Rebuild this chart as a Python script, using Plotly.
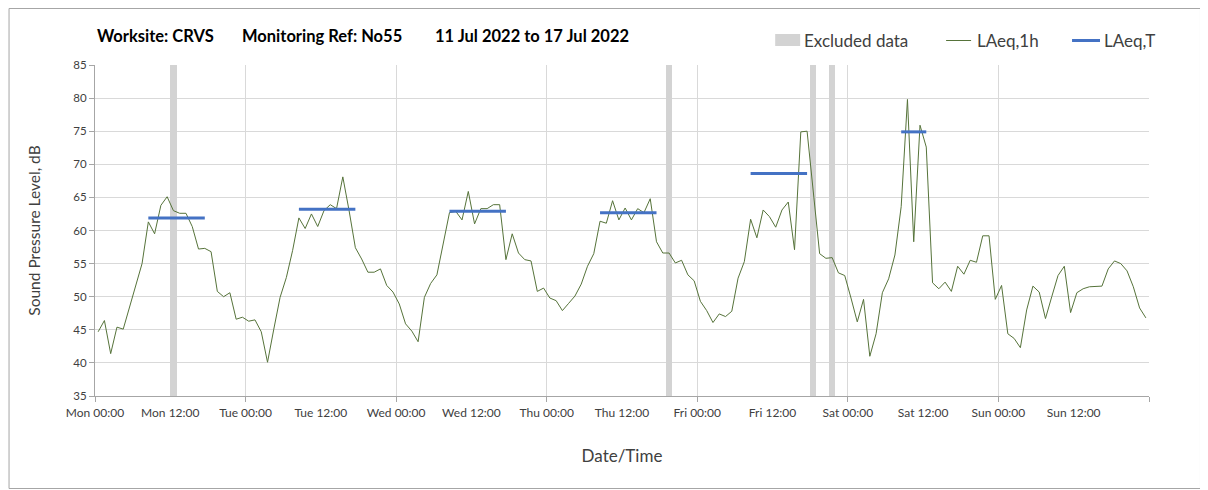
import plotly.graph_objects as go

# ---------------- data ----------------
day_labels = ["Mon", "Tue", "Wed", "Thu", "Fri", "Sat", "Sun"]
tick_hours = list(range(0, 168, 12))
tick_text = [f"{day_labels[h // 24]} {h % 24:02d}:00" for h in tick_hours]

# hourly LAeq,1h values (168 hours, Mon 00:00 .. Sun 23:00)
laeq_1h = [
    44.7, 46.4, 41.4, 45.4, 45.1, 48.5, 52.0, 55.0, 61.3, 59.5, 63.8, 65.1,
    63.0, 62.6, 62.6, 60.6, 57.2, 57.3, 56.8, 50.8, 50.0, 50.6, 46.6, 46.9,
    46.3, 46.5, 44.7, 40.1, 45.1, 49.9, 52.9, 57.0, 61.9, 60.3, 62.5, 60.6,
    63.0, 63.9, 63.3, 68.1, 63.0, 57.4, 55.7, 53.7, 53.7, 54.2, 51.7, 50.7,
    48.9, 45.9, 44.8, 43.2, 49.9, 52.0, 53.3, 58.3, 62.7, 62.9, 61.6, 65.9,
    61.0, 63.3, 63.3, 63.9, 63.9, 55.6, 59.5, 56.6, 55.6, 55.4, 50.8, 51.3,
    49.8, 49.4, 47.9, 49.0, 50.1, 51.9, 54.6, 56.5, 61.4, 61.1, 64.5, 61.6,
    63.4, 61.6, 63.3, 62.7, 64.8, 58.3, 56.6, 56.6, 55.1, 55.5, 53.3, 52.4,
    49.3, 47.9, 46.1, 47.4, 47.0, 47.8, 52.8, 55.3, 61.7, 58.9, 63.1, 62.1,
    60.5, 63.1, 64.3, 57.1, 74.9, 75.0, 66.0, 56.5, 55.8, 55.9, 53.6, 53.2,
    49.8, 46.2, 49.6, 41.0, 44.4, 50.6, 52.7, 56.3, 63.6, 79.8, 58.3, 75.9,
    72.6, 52.1, 51.2, 52.2, 50.8, 54.6, 53.4, 55.5, 55.2, 59.2, 59.2, 49.6,
    51.7, 44.4, 43.7, 42.3, 48.0, 51.6, 50.7, 46.7, 50.0, 53.2, 54.6, 47.6,
    50.6, 51.2, 51.5, 51.5, 51.6, 54.2, 55.4, 55.0, 53.9, 51.5, 48.3, 46.8,
]

# LAeq,T periods: (first hour, last hour, level)
laeq_t_start = [8, 32, 56, 80, 104, 128]
laeq_t_end = [17, 41, 65, 89, 113, 132]
laeq_t_value = [61.9, 63.2, 62.9, 62.7, 68.6, 74.9]

# excluded hours
excluded_hours = [12, 91, 114, 117]

series_names = ["Excluded data", "LAeq,1h", "LAeq,T"]
series_colors = ["#D3D3D3", "#56733A", "#4472C4"]

title_parts = ["Worksite: CRVS", "Monitoring Ref: No55", "11 Jul 2022 to 17 Jul 2022"]

y_min, y_max = 35, 85

# ---------------- figure ----------------
hours_x = [h + 0.5 for h in range(len(laeq_1h))]

t_x, t_y = [], []
for s, e, v in zip(laeq_t_start, laeq_t_end, laeq_t_value):
    t_x += [s + 0.5, e + 0.5, None]
    t_y += [v, v, None]

fig = go.Figure()
fig.add_trace(go.Bar(
    x=[h + 0.5 for h in excluded_hours],
    y=[y_max - y_min] * len(excluded_hours),
    base=y_min, width=1.0,
    marker=dict(color=series_colors[0], line=dict(width=0)),
    name=series_names[0], hoverinfo="skip", showlegend=False,
))
fig.add_trace(go.Scatter(
    x=hours_x, y=laeq_1h, mode="lines", name=series_names[1],
    line=dict(color=series_colors[1], width=1), showlegend=False,
))
fig.add_trace(go.Scatter(
    x=t_x, y=t_y, mode="lines", name=series_names[2],
    line=dict(color=series_colors[2], width=3), showlegend=False,
))

# page has an 8px body margin; work in page pixels and convert
OFF = 8
W, H = 1208 - OFF, 490 - OFF
L, R, T, B = 94.5 - OFF, 1149 - OFF, 65 - OFF, 396 - OFF

def px(xp):
    return (xp - OFF - L) / (R - L)

def py(yp):
    return (B - (yp - OFF)) / (B - T)

shapes = [dict(
    type="rect", xref="paper", yref="paper",
    x0=px(8.5), x1=px(1200.5), y0=py(488.5), y1=py(8.5),
    line=dict(color="#A6A6A6", width=1), layer="below",
)]
annotations = []
for part, x0 in zip(title_parts, [95, 240, 433]):
    annotations.append(dict(
        text=f"<b>{part}</b>",
        xref="paper", yref="paper", x=px(x0), y=py(36),
        xanchor="left", yanchor="middle", showarrow=False,
        font=dict(size=16.5, color="#000000"),
    ))

# custom legend (swatch, label start x)
leg_y = 40.5
shapes.append(dict(type="rect", xref="paper", yref="paper",
                   x0=px(775), x1=px(800), y0=py(46), y1=py(34),
                   fillcolor=series_colors[0], line=dict(width=0)))
shapes.append(dict(type="line", xref="paper", yref="paper",
                   x0=px(946), x1=px(971), y0=py(leg_y), y1=py(leg_y),
                   line=dict(color=series_colors[1], width=1)))
shapes.append(dict(type="line", xref="paper", yref="paper",
                   x0=px(1072), x1=px(1100), y0=py(leg_y), y1=py(leg_y),
                   line=dict(color=series_colors[2], width=3)))
for name, x0 in zip(series_names, [802, 975, 1102]):
    annotations.append(dict(
        text=name, xref="paper", yref="paper", x=px(x0), y=py(leg_y),
        xanchor="left", yanchor="middle", showarrow=False,
        font=dict(size=17, color="#404040"),
    ))

fig.update_layout(
    width=W, height=H,
    margin=dict(l=L, r=W - R, t=T, b=H - B, autoexpand=False),
    paper_bgcolor="white", plot_bgcolor="white",
    font=dict(family="Lato, Open Sans, sans-serif", color="#404040"),
    bargap=0,
    showlegend=False,
    annotations=annotations,
    shapes=shapes,
)

fig.update_xaxes(
    range=[0, 168],
    tickmode="array", tickvals=tick_hours, ticktext=tick_text,
    ticks="", showgrid=False, ticklabelstandoff=6,
    tickfont=dict(size=12, color="#404040"),
    showline=True, linecolor="#A6A6A6", linewidth=1,
    minor=dict(tick0=0, dtick=24, showgrid=True, gridcolor="#D9D9D9",
               gridwidth=1, ticks="outside", ticklen=5, tickcolor="#A6A6A6"),
    title=dict(text="Date/Time", font=dict(size=17, color="#404040"), standoff=30),
    zeroline=False,
)
fig.update_yaxes(
    range=[y_min, y_max], dtick=5, tick0=35,
    showgrid=True, gridcolor="#D9D9D9", gridwidth=1,
    ticks="outside", ticklen=5, tickcolor="#A6A6A6",
    tickfont=dict(size=11.5, color="#404040"),
    showline=True, linecolor="#A6A6A6", linewidth=1,
    title=dict(text="Sound Pressure Level, dB", font=dict(size=15.5, color="#404040"), standoff=28),
    zeroline=False,
)

fig.write_html("out.html")
